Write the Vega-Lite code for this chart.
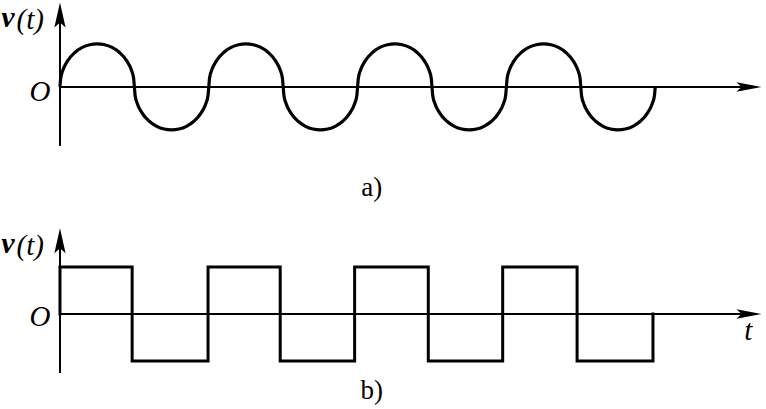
{
  "$schema": "https://vega.github.io/schema/vega-lite/v6.json",
  "padding": 0,
  "spacing": 0,
  "background": "white",
  "config": {"view": {"stroke": null}},
  "datasets": {
    "wave": [
      {"t":0,"v":0},{"t":0.01,"v":0.199},{"t":0.04,"v":0.392},{"t":0.1,"v":0.6},{"t":0.2,"v":0.8},{"t":0.3,"v":0.917},{"t":0.4,"v":0.98},{"t":0.5,"v":1},{"t":0.6,"v":0.98},{"t":0.7,"v":0.917},{"t":0.8,"v":0.8},{"t":0.9,"v":0.6},{"t":0.96,"v":0.392},{"t":0.99,"v":0.199},
      {"t":1,"v":0},{"t":1.01,"v":-0.199},{"t":1.04,"v":-0.392},{"t":1.1,"v":-0.6},{"t":1.2,"v":-0.8},{"t":1.3,"v":-0.917},{"t":1.4,"v":-0.98},{"t":1.5,"v":-1},{"t":1.6,"v":-0.98},{"t":1.7,"v":-0.917},{"t":1.8,"v":-0.8},{"t":1.9,"v":-0.6},{"t":1.96,"v":-0.392},{"t":1.99,"v":-0.199},
      {"t":2,"v":0},{"t":2.01,"v":0.199},{"t":2.04,"v":0.392},{"t":2.1,"v":0.6},{"t":2.2,"v":0.8},{"t":2.3,"v":0.917},{"t":2.4,"v":0.98},{"t":2.5,"v":1},{"t":2.6,"v":0.98},{"t":2.7,"v":0.917},{"t":2.8,"v":0.8},{"t":2.9,"v":0.6},{"t":2.96,"v":0.392},{"t":2.99,"v":0.199},
      {"t":3,"v":0},{"t":3.01,"v":-0.199},{"t":3.04,"v":-0.392},{"t":3.1,"v":-0.6},{"t":3.2,"v":-0.8},{"t":3.3,"v":-0.917},{"t":3.4,"v":-0.98},{"t":3.5,"v":-1},{"t":3.6,"v":-0.98},{"t":3.7,"v":-0.917},{"t":3.8,"v":-0.8},{"t":3.9,"v":-0.6},{"t":3.96,"v":-0.392},{"t":3.99,"v":-0.199},
      {"t":4,"v":0},{"t":4.01,"v":0.199},{"t":4.04,"v":0.392},{"t":4.1,"v":0.6},{"t":4.2,"v":0.8},{"t":4.3,"v":0.917},{"t":4.4,"v":0.98},{"t":4.5,"v":1},{"t":4.6,"v":0.98},{"t":4.7,"v":0.917},{"t":4.8,"v":0.8},{"t":4.9,"v":0.6},{"t":4.96,"v":0.392},{"t":4.99,"v":0.199},
      {"t":5,"v":0},{"t":5.01,"v":-0.199},{"t":5.04,"v":-0.392},{"t":5.1,"v":-0.6},{"t":5.2,"v":-0.8},{"t":5.3,"v":-0.917},{"t":5.4,"v":-0.98},{"t":5.5,"v":-1},{"t":5.6,"v":-0.98},{"t":5.7,"v":-0.917},{"t":5.8,"v":-0.8},{"t":5.9,"v":-0.6},{"t":5.96,"v":-0.392},{"t":5.99,"v":-0.199},
      {"t":6,"v":0},{"t":6.01,"v":0.199},{"t":6.04,"v":0.392},{"t":6.1,"v":0.6},{"t":6.2,"v":0.8},{"t":6.3,"v":0.917},{"t":6.4,"v":0.98},{"t":6.5,"v":1},{"t":6.6,"v":0.98},{"t":6.7,"v":0.917},{"t":6.8,"v":0.8},{"t":6.9,"v":0.6},{"t":6.96,"v":0.392},{"t":6.99,"v":0.199},
      {"t":7,"v":0},{"t":7.01,"v":-0.199},{"t":7.04,"v":-0.392},{"t":7.1,"v":-0.6},{"t":7.2,"v":-0.8},{"t":7.3,"v":-0.917},{"t":7.4,"v":-0.98},{"t":7.5,"v":-1},{"t":7.6,"v":-0.98},{"t":7.7,"v":-0.917},{"t":7.8,"v":-0.8},{"t":7.9,"v":-0.6},{"t":7.96,"v":-0.392},{"t":7.99,"v":-0.199},
      {"t":8,"v":0}
    ],
    "square": [
      {"i":0,"t":0,"v":0},{"i":1,"t":0,"v":1},{"i":2,"t":0.97,"v":1},{"i":3,"t":0.97,"v":-1},
      {"i":4,"t":1.99,"v":-1},{"i":5,"t":1.99,"v":1},{"i":6,"t":2.96,"v":1},{"i":7,"t":2.96,"v":-1},
      {"i":8,"t":3.96,"v":-1},{"i":9,"t":3.96,"v":1},{"i":10,"t":4.95,"v":1},{"i":11,"t":4.95,"v":-1},
      {"i":12,"t":5.95,"v":-1},{"i":13,"t":5.95,"v":1},{"i":14,"t":6.95,"v":1},{"i":15,"t":6.95,"v":-1},
      {"i":16,"t":7.97,"v":-1},{"i":17,"t":7.97,"v":0}
    ],
    "axesA": [
      {"axis":"t","t":0,"t2":9.2,"v":0,"v2":0},
      {"axis":"v","t":0,"t2":0,"v":-1.372,"v2":1.6}
    ],
    "axesB": [
      {"axis":"t","t":0,"t2":9.2,"v":0,"v2":0},
      {"axis":"v","t":0,"t2":0,"v":-1.255,"v2":1.5}
    ],
    "arrowsA": [
      {"axis":"t","t":9.26,"v":0},
      {"axis":"v","t":0,"v":1.674}
    ],
    "arrowsB": [
      {"axis":"t","t":9.26,"v":0},
      {"axis":"v","t":0,"v":1.553}
    ],
    "labelsA": [
      {"label":"v","t":-0.7,"v":1.6},
      {"label":"(t)","t":-0.4,"v":1.56},
      {"label":"O","t":-0.27,"v":-0.116},
      {"label":"a)","t":4.19,"v":-2.35}
    ],
    "labelsB": [
      {"label":"v","t":-0.7,"v":1.49},
      {"label":"(t)","t":-0.4,"v":1.45},
      {"label":"O","t":-0.27,"v":-0.064},
      {"label":"t","t":9.25,"v":-0.36},
      {"label":"b)","t":4.19,"v":-1.64}
    ]
  },
  "vconcat": [
    {
      "width": 766,
      "height": 200,
      "encoding": {
        "x": {"field":"t","type":"quantitative","scale":{"domain":[-0.806,9.489],"nice":false,"zero":false},"axis":null},
        "y": {"field":"v","type":"quantitative","scale":{"domain":[-2.63,2.02],"nice":false,"zero":false},"axis":null}
      },
      "layer": [
        {
          "data": {"name":"axesA"},
          "mark": {"type":"rule","color":"black","strokeWidth":2},
          "encoding": {"x2":{"field":"t2"},"y2":{"field":"v2"}}
        },
        {
          "data": {"name":"arrowsA"},
          "transform": [{"filter":"datum.axis == 'v'"}],
          "mark": {"type":"point","filled":true,"color":"black","opacity":1,"size":625,"shape":"M0,-1L0.45,1L0,0.6L-0.45,1Z"}
        },
        {
          "data": {"name":"arrowsA"},
          "transform": [{"filter":"datum.axis == 't'"}],
          "mark": {"type":"point","filled":true,"color":"black","opacity":1,"size":625,"shape":"M1,0L-1,0.38L-0.6,0L-1,-0.38Z"}
        },
        {
          "data": {"name":"wave"},
          "mark": {"type":"line","color":"black","strokeWidth":3.2,"interpolate":"monotone"}
        },
        {
          "data": {"name":"labelsA"},
          "transform": [{"filter":"datum.label == 'v'"}],
          "mark": {"type":"text","font":"Liberation Serif","fontStyle":"italic","fontWeight":"bold","fontSize":30,"color":"black","align":"center","baseline":"middle"},
          "encoding": {"text":{"field":"label"}}
        },
        {
          "data": {"name":"labelsA"},
          "transform": [{"filter":"datum.label == '(t)' || datum.label == 'O'"}],
          "mark": {"type":"text","font":"Liberation Serif","fontStyle":"italic","fontSize":29,"color":"black","align":"center","baseline":"middle"},
          "encoding": {"text":{"field":"label"}}
        },
        {
          "data": {"name":"labelsA"},
          "transform": [{"filter":"datum.label == 'a)'"}],
          "mark": {"type":"text","font":"Liberation Serif","fontSize":27,"color":"black","align":"center","baseline":"middle"},
          "encoding": {"text":{"field":"label"}}
        }
      ]
    },
    {
      "width": 766,
      "height": 209,
      "encoding": {
        "x": {"field":"t","type":"quantitative","scale":{"domain":[-0.806,9.489],"nice":false,"zero":false},"axis":null},
        "y": {"field":"v","type":"quantitative","scale":{"domain":[-2.04,2.40],"nice":false,"zero":false},"axis":null}
      },
      "layer": [
        {
          "data": {"name":"axesB"},
          "mark": {"type":"rule","color":"black","strokeWidth":2},
          "encoding": {"x2":{"field":"t2"},"y2":{"field":"v2"}}
        },
        {
          "data": {"name":"arrowsB"},
          "transform": [{"filter":"datum.axis == 'v'"}],
          "mark": {"type":"point","filled":true,"color":"black","opacity":1,"size":625,"shape":"M0,-1L0.45,1L0,0.6L-0.45,1Z"}
        },
        {
          "data": {"name":"arrowsB"},
          "transform": [{"filter":"datum.axis == 't'"}],
          "mark": {"type":"point","filled":true,"color":"black","opacity":1,"size":625,"shape":"M1,0L-1,0.38L-0.6,0L-1,-0.38Z"}
        },
        {
          "data": {"name":"square"},
          "mark": {"type":"line","color":"black","strokeWidth":3,"strokeJoin":"miter","strokeCap":"square"},
          "encoding": {"order":{"field":"i","type":"quantitative"}}
        },
        {
          "data": {"name":"labelsB"},
          "transform": [{"filter":"datum.label == 'v'"}],
          "mark": {"type":"text","font":"Liberation Serif","fontStyle":"italic","fontWeight":"bold","fontSize":30,"color":"black","align":"center","baseline":"middle"},
          "encoding": {"text":{"field":"label"}}
        },
        {
          "data": {"name":"labelsB"},
          "transform": [{"filter":"datum.label == '(t)' || datum.label == 'O' || datum.label == 't'"}],
          "mark": {"type":"text","font":"Liberation Serif","fontStyle":"italic","fontSize":29,"color":"black","align":"center","baseline":"middle"},
          "encoding": {"text":{"field":"label"}}
        },
        {
          "data": {"name":"labelsB"},
          "transform": [{"filter":"datum.label == 'b)'"}],
          "mark": {"type":"text","font":"Liberation Serif","fontSize":27,"color":"black","align":"center","baseline":"middle"},
          "encoding": {"text":{"field":"label"}}
        }
      ]
    }
  ]
}
